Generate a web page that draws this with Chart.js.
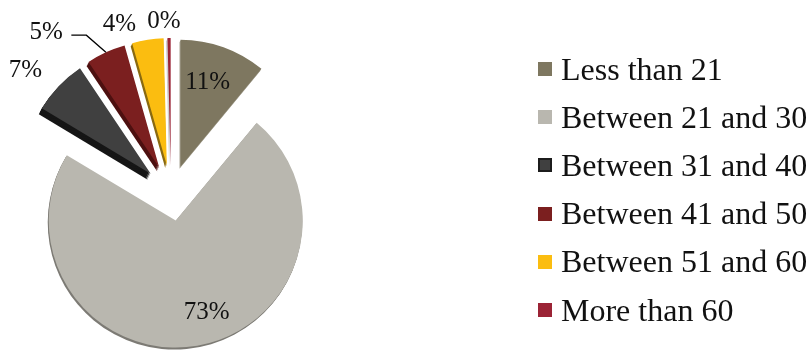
<!DOCTYPE html>
<html>
<head>
<meta charset="utf-8">
<script src="https://cdn.jsdelivr.net/npm/chart.js@4.4.1/dist/chart.umd.min.js"></script>
<style>
  body { margin: 0; background: #fff; }
  #wrap { position: relative; width: 811px; height: 356px; }
  #legend { position: absolute; left: 538px; top: 45px; font-family: "Liberation Serif", "Times New Roman", serif; font-size: 32px; color: #111; }
  .row { display: flex; align-items: center; height: 48.2px; white-space: nowrap; }
  .box { width: 14px; height: 14px; margin-right: 9px; box-sizing: border-box; }
</style>
</head>
<body>
<div id="wrap">
  <canvas id="myChart"></canvas>
  <div id="legend"></div>
</div>
<script>
// age groups
const categories = ["Less than 21", "Between 21 and 30", "Between 31 and 40", "Between 41 and 50", "Between 51 and 60", "More than 60"];
const shares = [11, 72.6, 7, 5, 4, 0.4];
const sliceColors = ["#7e7760", "#b9b7af", "#404040", "#7b1f1f", "#fbbd10", "#9b2335"];
const sideColors = ["#a9a596", "#7d7b75", "#161616", "#4d1010", "#8a6a10", "#cfcfcf"];
const boxBorders = ["#7e7760", "#b9b7af", "#1c1c1c", "#7b1f1f", "#fbbd10", "#9b2335"];

// how far each slice is pulled out, how thick it looks, and where its % label sits (fraction of radius, degrees)
const explode = 28;
const sideDepth = [2, 2, 6, 4, 3, 3];
const labelSpots = [[0.70, -2], [0.76, -9], [1.28, -4], [1.39, -15], [1.17, -10], [1.13, -2]];

const total = shares.reduce((a, b) => a + b, 0);
const deg = Math.PI / 180;

function apexOf(arc) {
  const mid = (arc.startAngle + arc.endAngle) / 2;
  return { x: arc.x + Math.cos(mid) * explode, y: arc.y + Math.sin(mid) * explode, mid: mid };
}

const explodePlugin = {
  id: "explode",
  beforeDatasetDraw(chart, args) {
    const ctx = chart.ctx;
    const arcs = chart.getDatasetMeta(args.index).data;
    // thickness of the slices
    arcs.forEach(function (arc, i) {
      const a = apexOf(arc);
      for (let k = sideDepth[i]; k > 0; k--) {
        ctx.beginPath();
        ctx.moveTo(a.x - k * 0.5, a.y + k);
        ctx.arc(a.x - k * 0.5, a.y + k, arc.outerRadius, arc.startAngle, arc.endAngle);
        ctx.closePath();
        ctx.fillStyle = sideColors[i];
        ctx.fill();
      }
    });
    arcs.forEach(function (arc) {
      const a = apexOf(arc);
      ctx.save();
      ctx.translate(a.x - arc.x, a.y - arc.y);
      arc.draw(ctx);
      ctx.restore();
    });
    return false;
  },
  afterDatasetsDraw(chart) {
    const ctx = chart.ctx;
    const arcs = chart.getDatasetMeta(0).data;
    ctx.save();
    ctx.font = "25px 'Liberation Serif', 'Times New Roman', serif";
    ctx.fillStyle = "#111";
    ctx.textAlign = "center";
    ctx.textBaseline = "middle";
    arcs.forEach(function (arc, i) {
      const a = apexOf(arc);
      const r = arc.outerRadius * labelSpots[i][0];
      const ang = a.mid + labelSpots[i][1] * deg;
      const lx = a.x + Math.cos(ang) * r;
      const ly = a.y + Math.sin(ang) * r;
      ctx.fillText(Math.round(shares[i] / total * 100) + "%", lx, ly);
      if (i === 3) {
        // leader line for the 5% slice
        const p1x = a.x + Math.cos(a.mid) * arc.outerRadius;
        const p1y = a.y + Math.sin(a.mid) * arc.outerRadius;
        const p2x = a.x + Math.cos(a.mid - 4 * deg) * arc.outerRadius * 1.19;
        const p2y = a.y + Math.sin(a.mid - 4 * deg) * arc.outerRadius * 1.19;
        ctx.beginPath();
        ctx.moveTo(p1x, p1y);
        ctx.lineTo(p2x, p2y);
        ctx.lineTo(p2x - 15, p2y);
        ctx.strokeStyle = "#000";
        ctx.lineWidth = 1.3;
        ctx.stroke();
      }
    });
    ctx.restore();
  }
};

const ctx = document.getElementById("myChart").getContext("2d");
document.getElementById("myChart").parentNode.style.height = "356px";

const chart = new Chart(ctx, {
  type: "pie",
  data: {
    labels: categories,
    datasets: [{
      data: shares,
      backgroundColor: sliceColors,
      borderWidth: 0,
      clip: false
    }]
  },
  options: {
    responsive: true,
    maintainAspectRatio: false,
    animation: false,
    layout: { padding: { left: 44, top: 66, right: 513, bottom: 36 } },
    plugins: {
      legend: { display: false },
      tooltip: { enabled: false }
    }
  },
  plugins: [explodePlugin]
});

// legend on the right
const legend = document.getElementById("legend");
categories.forEach(function (name, i) {
  const row = document.createElement("div");
  row.className = "row";
  const box = document.createElement("span");
  box.className = "box";
  box.style.background = sliceColors[i];
  box.style.border = (i === 2 ? "2px" : "1px") + " solid " + boxBorders[i];
  const txt = document.createElement("span");
  txt.textContent = name;
  row.appendChild(box);
  row.appendChild(txt);
  legend.appendChild(row);
});
</script>
</body>
</html>
